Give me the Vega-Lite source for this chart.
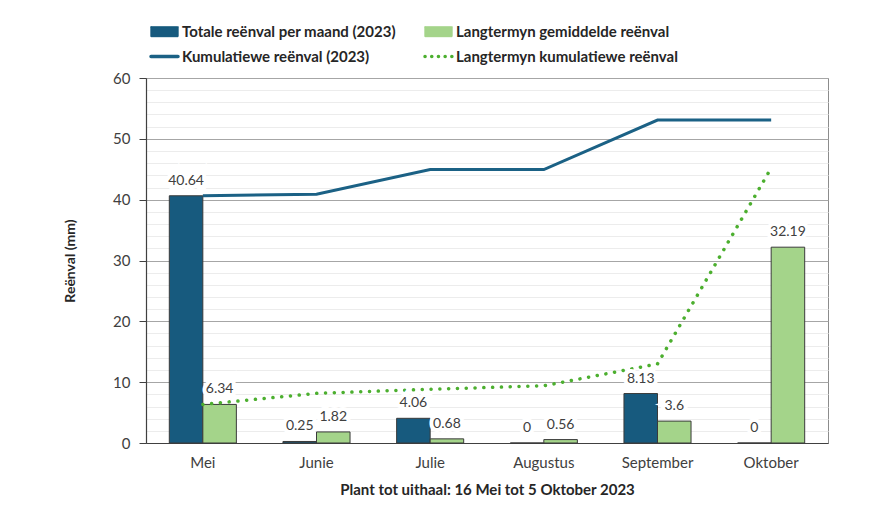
{
  "$schema": "https://vega.github.io/schema/vega-lite/v6.json",
  "width": 682,
  "height": 365,
  "autosize": {"type": "none"},
  "padding": {"left": 146, "top": 78, "right": 58, "bottom": 68},
  "background": "white",
  "config": {
    "font": "Lato",
    "view": {"stroke": "#8c8c8c", "strokeWidth": 1}
  },
  "datasets": {
    "bars": [
      {"month": "Mei", "series": "Totale reënval per maand (2023)", "value": 40.64},
      {"month": "Mei", "series": "Langtermyn gemiddelde reënval", "value": 6.34},
      {"month": "Junie", "series": "Totale reënval per maand (2023)", "value": 0.25},
      {"month": "Junie", "series": "Langtermyn gemiddelde reënval", "value": 1.82},
      {"month": "Julie", "series": "Totale reënval per maand (2023)", "value": 4.06},
      {"month": "Julie", "series": "Langtermyn gemiddelde reënval", "value": 0.68},
      {"month": "Augustus", "series": "Totale reënval per maand (2023)", "value": 0},
      {"month": "Augustus", "series": "Langtermyn gemiddelde reënval", "value": 0.56},
      {"month": "September", "series": "Totale reënval per maand (2023)", "value": 8.13},
      {"month": "September", "series": "Langtermyn gemiddelde reënval", "value": 3.6},
      {"month": "Oktober", "series": "Totale reënval per maand (2023)", "value": 0},
      {"month": "Oktober", "series": "Langtermyn gemiddelde reënval", "value": 32.19}
    ],
    "lines": [
      {"month": "Mei", "series": "Kumulatiewe reënval (2023)", "value": 40.64},
      {"month": "Junie", "series": "Kumulatiewe reënval (2023)", "value": 40.89},
      {"month": "Julie", "series": "Kumulatiewe reënval (2023)", "value": 44.95},
      {"month": "Augustus", "series": "Kumulatiewe reënval (2023)", "value": 44.95},
      {"month": "September", "series": "Kumulatiewe reënval (2023)", "value": 53.08},
      {"month": "Oktober", "series": "Kumulatiewe reënval (2023)", "value": 53.08},
      {"month": "Mei", "series": "Langtermyn kumulatiewe reënval", "value": 6.34},
      {"month": "Junie", "series": "Langtermyn kumulatiewe reënval", "value": 8.16},
      {"month": "Julie", "series": "Langtermyn kumulatiewe reënval", "value": 8.84},
      {"month": "Augustus", "series": "Langtermyn kumulatiewe reënval", "value": 9.4},
      {"month": "September", "series": "Langtermyn kumulatiewe reënval", "value": 13.0},
      {"month": "Oktober", "series": "Langtermyn kumulatiewe reënval", "value": 45.19}
    ]
  },
  "resolve": {"axis": {"y": "independent"}},
  "layer": [
    {
      "data": {"name": "bars"},
      "mark": {"type": "bar", "stroke": "#3a3a3a", "strokeWidth": 1},
      "encoding": {
        "x": {
          "field": "month", "type": "nominal",
          "sort": ["Mei", "Junie", "Julie", "Augustus", "September", "Oktober"],
          "scale": {"paddingInner": 0.41, "paddingOuter": 0.205},
          "axis": {
            "title": "Plant tot uithaal: 16 Mei tot 5 Oktober 2023",
            "labelAngle": 0, "ticks": false, "domainColor": "#404040", "domainWidth": 1.2,
            "labelFontSize": 15, "labelColor": "#404040", "labelPadding": 12,
            "titleFontSize": 15, "titleFontWeight": "bold", "titleColor": "#262626", "titlePadding": 12
          }
        },
        "xOffset": {
          "field": "series", "type": "nominal",
          "sort": ["Totale reënval per maand (2023)", "Langtermyn gemiddelde reënval"]
        },
        "y": {
          "field": "value", "type": "quantitative",
          "scale": {"domain": [0, 60], "nice": false},
          "axis": {
            "orient": "left",
            "values": [2, 4, 6, 8, 12, 14, 16, 18, 22, 24, 26, 28, 32, 34, 36, 38, 42, 44, 46, 48, 52, 54, 56, 58],
            "grid": true, "gridColor": "#ececec", "labels": false, "ticks": false, "domain": false, "title": null
          }
        },
        "color": {
          "field": "series", "type": "nominal",
          "scale": {
            "domain": ["Totale reënval per maand (2023)", "Langtermyn gemiddelde reënval", "Kumulatiewe reënval (2023)", "Langtermyn kumulatiewe reënval"],
            "range": ["#175a7e", "#a4d48a", "#1b6185", "#4caf2f"]
          },
          "legend": {
            "orient": "none", "legendX": 11, "legendY": -54, "columns": 2, "direction": "horizontal",
            "title": null, "padding": 0,
            "labelFont": "Lato", "labelFontSize": 15, "labelFontWeight": "bold", "labelColor": "#262626",
            "labelOffset": 10, "labelLimit": 400, "symbolSize": 729, "columnPadding": 22, "rowPadding": 9,
            "encoding": {
              "symbols": {
                "shape": {"value": {"expr": "datum.value === 'Kumulatiewe reënval (2023)' || datum.value === 'Langtermyn kumulatiewe reënval' ? 'stroke' : 'M-1,-0.36H1V0.36H-1Z'"}},
                "fill": {"value": {"expr": "datum.value === 'Totale reënval per maand (2023)' ? '#175a7e' : datum.value === 'Langtermyn gemiddelde reënval' ? '#a4d48a' : 'transparent'"}},
                "stroke": {"value": {"expr": "datum.value === 'Totale reënval per maand (2023)' || datum.value === 'Langtermyn gemiddelde reënval' ? '#3a3a3a' : datum.value === 'Kumulatiewe reënval (2023)' ? '#1b6185' : '#4caf2f'"}},
                "strokeWidth": {"value": {"expr": "datum.value === 'Totale reënval per maand (2023)' || datum.value === 'Langtermyn gemiddelde reënval' ? 1 : 3.5"}},
                "strokeDash": {"value": {"expr": "datum.value === 'Langtermyn kumulatiewe reënval' ? [0.1, 6.6] : [1, 0]"}},
                "strokeCap": {"value": "round"},
                "opacity": {"value": 1}
              }
            }
          }
        }
      }
    },
    {
      "data": {"name": "lines"},
      "transform": [{"filter": "datum.series === 'Kumulatiewe reënval (2023)'"}],
      "mark": {"type": "line", "interpolate": "linear", "strokeWidth": 3},
      "encoding": {
        "x": {
          "field": "month", "type": "nominal",
          "sort": ["Mei", "Junie", "Julie", "Augustus", "September", "Oktober"],
          "scale": {"paddingInner": 0.41, "paddingOuter": 0.205},
          "axis": {
            "title": "Plant tot uithaal: 16 Mei tot 5 Oktober 2023",
            "labelAngle": 0, "ticks": false, "domainColor": "#404040", "domainWidth": 1.2,
            "labelFontSize": 15, "labelColor": "#404040", "labelPadding": 12,
            "titleFontSize": 15, "titleFontWeight": "bold", "titleColor": "#262626", "titlePadding": 12
          }
        },
        "y": {"field": "value", "type": "quantitative", "scale": {"domain": [0, 60], "nice": false}, "axis": null},
        "color": {"field": "series", "type": "nominal"}
      }
    },
    {
      "data": {"name": "lines"},
      "transform": [{"filter": "datum.series === 'Langtermyn kumulatiewe reënval'"}],
      "mark": {"type": "line", "interpolate": "linear", "strokeWidth": 3.5, "strokeDash": [0.1, 8.7], "strokeCap": "round"},
      "encoding": {
        "x": {
          "field": "month", "type": "nominal",
          "sort": ["Mei", "Junie", "Julie", "Augustus", "September", "Oktober"],
          "scale": {"paddingInner": 0.41, "paddingOuter": 0.205},
          "axis": {
            "title": "Plant tot uithaal: 16 Mei tot 5 Oktober 2023",
            "labelAngle": 0, "ticks": false, "domainColor": "#404040", "domainWidth": 1.2,
            "labelFontSize": 15, "labelColor": "#404040", "labelPadding": 12,
            "titleFontSize": 15, "titleFontWeight": "bold", "titleColor": "#262626", "titlePadding": 12
          }
        },
        "y": {"field": "value", "type": "quantitative", "scale": {"domain": [0, 60], "nice": false}, "axis": null},
        "color": {"field": "series", "type": "nominal"}
      }
    },
    {
      "data": {"name": "bars"},
      "mark": {"type": "text", "baseline": "middle", "dy": -15, "fontSize": 14, "color": "white", "stroke": "white", "strokeWidth": 8, "strokeJoin": "miter"},
      "encoding": {
        "x": {
          "field": "month", "type": "nominal",
          "sort": ["Mei", "Junie", "Julie", "Augustus", "September", "Oktober"],
          "scale": {"paddingInner": 0.41, "paddingOuter": 0.205},
          "axis": {
            "title": "Plant tot uithaal: 16 Mei tot 5 Oktober 2023",
            "labelAngle": 0, "ticks": false, "domainColor": "#404040", "domainWidth": 1.2,
            "labelFontSize": 15, "labelColor": "#404040", "labelPadding": 12,
            "titleFontSize": 15, "titleFontWeight": "bold", "titleColor": "#262626", "titlePadding": 12
          }
        },
        "xOffset": {
          "field": "series", "type": "nominal",
          "sort": ["Totale reënval per maand (2023)", "Langtermyn gemiddelde reënval"]
        },
        "y": {"field": "value", "type": "quantitative", "scale": {"domain": [0, 60], "nice": false}, "axis": null},
        "text": {"field": "value", "type": "quantitative"}
      }
    },
    {
      "data": {"name": "bars"},
      "mark": {"type": "text", "baseline": "middle", "dy": -15, "fontSize": 14, "color": "#404040"},
      "encoding": {
        "x": {
          "field": "month", "type": "nominal",
          "sort": ["Mei", "Junie", "Julie", "Augustus", "September", "Oktober"],
          "scale": {"paddingInner": 0.41, "paddingOuter": 0.205},
          "axis": {
            "title": "Plant tot uithaal: 16 Mei tot 5 Oktober 2023",
            "labelAngle": 0, "ticks": false, "domainColor": "#404040", "domainWidth": 1.2,
            "labelFontSize": 15, "labelColor": "#404040", "labelPadding": 12,
            "titleFontSize": 15, "titleFontWeight": "bold", "titleColor": "#262626", "titlePadding": 12
          }
        },
        "xOffset": {
          "field": "series", "type": "nominal",
          "sort": ["Totale reënval per maand (2023)", "Langtermyn gemiddelde reënval"]
        },
        "y": {
          "field": "value", "type": "quantitative",
          "scale": {"domain": [0, 60], "nice": false},
          "axis": {
            "orient": "left",
            "values": [0, 10, 20, 30, 40, 50, 60],
            "grid": true, "gridColor": "#a6a6a6", "domainColor": "#404040", "domainWidth": 1.2,
            "tickColor": "#404040", "tickSize": 7,
            "labelFontSize": 15, "labelColor": "#404040", "labelPadding": 9,
            "title": "Reënval (mm)", "titleFontSize": 14, "titleFontWeight": "bold", "titleColor": "#262626", "titlePadding": 35
          }
        },
        "text": {"field": "value", "type": "quantitative"}
      }
    }
  ]
}
